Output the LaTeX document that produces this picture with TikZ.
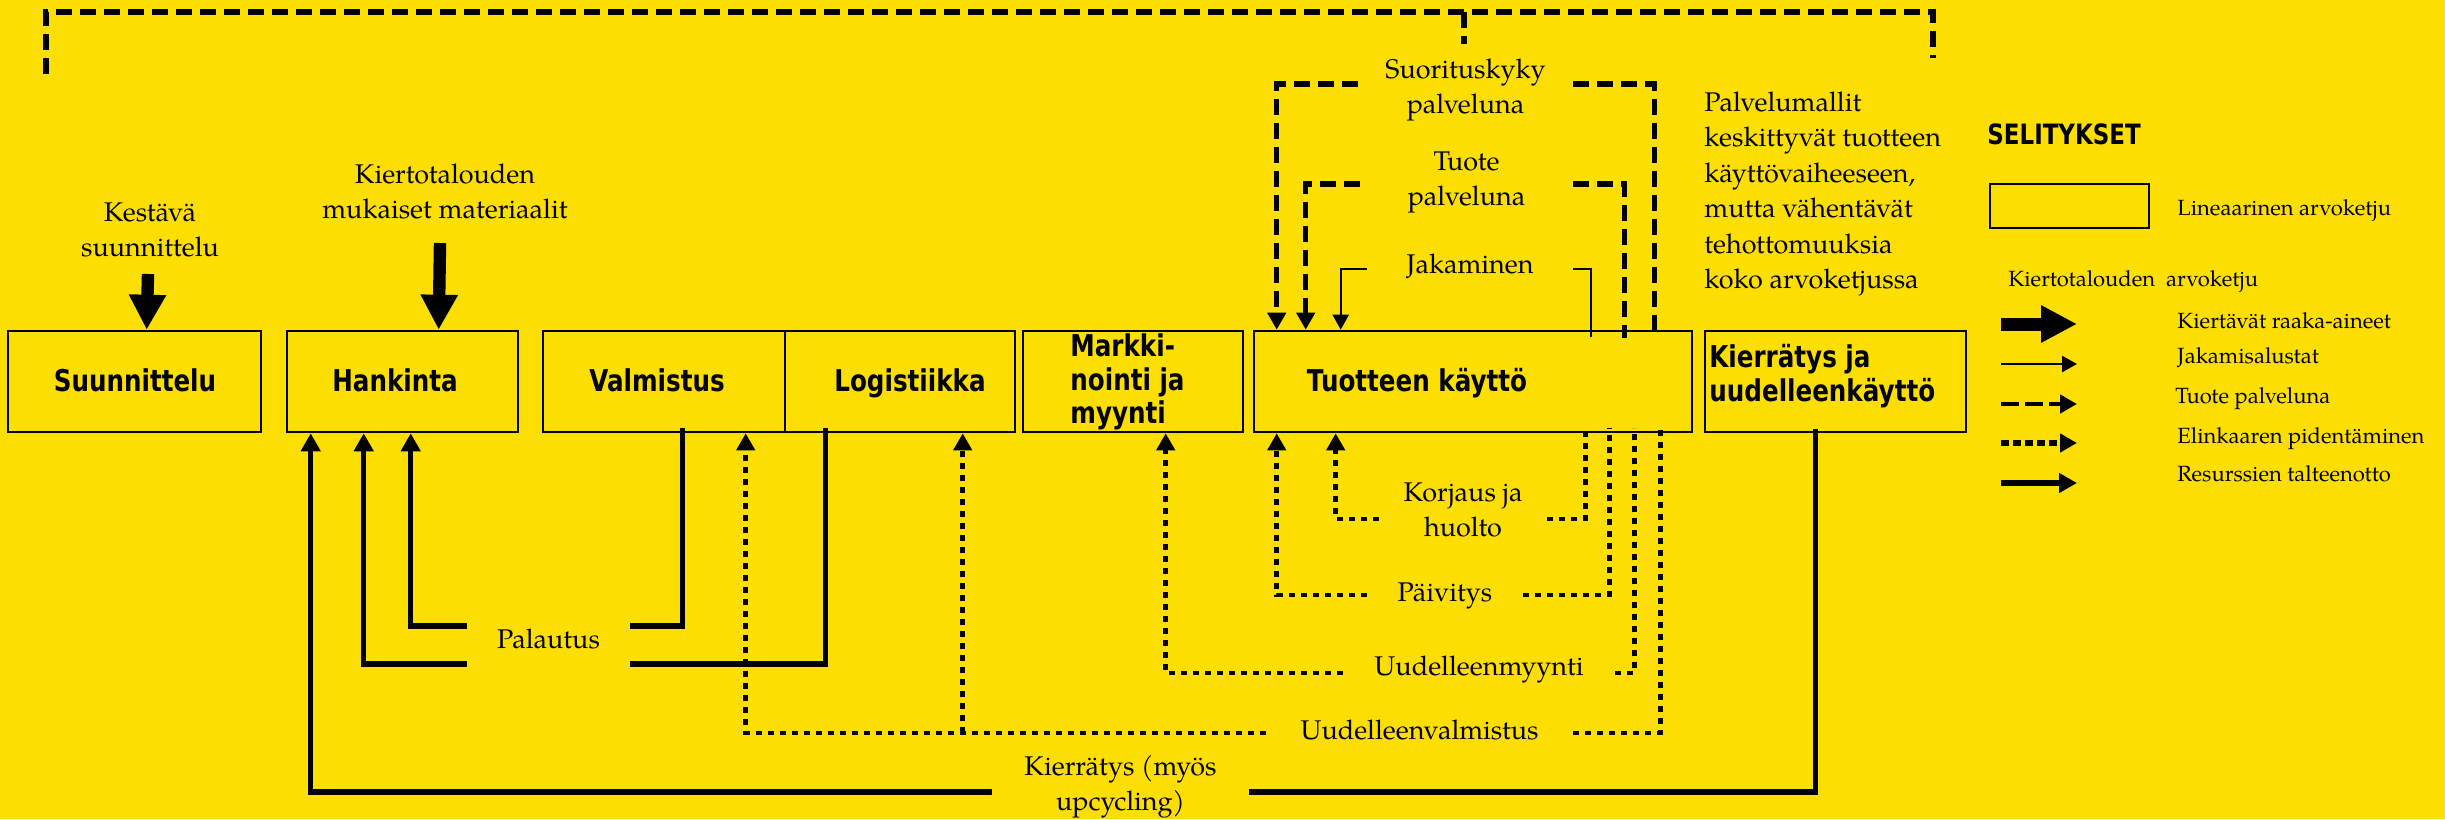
\documentclass[tikz,border=0pt]{standalone}
\usepackage{fontspec}
\setmainfont{texgyrepagella}[Extension=.otf, UprightFont=*-regular, BoldFont=*-bold, ItalicFont=*-italic, BoldItalicFont=*-bolditalic]
\newfontfamily\boxfont{DejaVu Sans}[FakeStretch=0.82]
\usetikzlibrary{arrows.meta,calc}
\definecolor{bgyellow}{RGB}{252,223,0}
\tikzset{
  box/.style={draw, line width=1.3pt, rectangle, inner sep=0pt},
  boxtext/.style={font=\boxfont\bfseries\fontsize{15}{16.75}\selectfont, inner sep=0pt},
  lab/.style={font=\fontsize{13.5}{17.5}\selectfont, align=center, inner sep=0pt},
  leglab/.style={font=\fontsize{11}{13}\selectfont, inner sep=0pt, anchor=base west},
  solidline/.style={line width=2.7pt},
  solidarrow/.style={solidline, -{Triangle[length=9pt,width=9.5pt]}},
  dotline/.style={line width=2.4pt, dash pattern=on 3pt off 3pt},
  dotarrow/.style={dotline, -{Triangle[length=8.5pt,width=9pt]}},
  dashline/.style={line width=2.7pt, dash pattern=on 8pt off 4pt},
  dasharrow/.style={dashline, -{Triangle[length=8.5pt,width=9pt]}},
  thinline/.style={line width=1.15pt},
  thinarrow/.style={thinline, -{Triangle[length=7.5pt,width=8pt]}},
  bigarrow/.style={line width=6.2pt, -{Triangle[length=17.5pt,width=17.5pt]}},
}
\begin{document}
\begin{tikzpicture}[x=0.5pt,y=-0.5pt]
\fill[bgyellow] (0,0) rectangle (2445,819);
\useasboundingbox (0,0) rectangle (2445,819);

% top dashed frame
\coordinate (f1) at (46,74);
\coordinate (f2) at (46,12);
\coordinate (f3) at (1933,12);
\coordinate (f4) at (1933,58);
\coordinate (f5) at (1464,12);
\coordinate (f6) at (1464,44);
\draw[dashline, line width=2.6pt, dash pattern=on 8pt off 4pt] (f1) -- (f2) -- (f3) -- (f4);
\draw[dashline, line width=2.6pt] (f5) -- (f6);

% boxes
\node[box, minimum width=126.5pt, minimum height=50.5pt] (su) at (134.5,381.5) {};
\node[box, minimum width=115.5pt, minimum height=50.5pt] (han) at (402.5,381.5) {};
\node[box, minimum width=121pt, minimum height=50.5pt] (val) at (664,381.5) {};
\node[box, minimum width=115pt, minimum height=50.5pt] (log) at (900,381.5) {};
\node[box, minimum width=110pt, minimum height=50.5pt] (mk) at (1133,381.5) {};
\node[box, minimum width=219pt, minimum height=50.5pt] (tk) at (1473,381.5) {};
\node[box, minimum width=130.5pt, minimum height=50.5pt] (kj) at (1835.5,381.5) {};

% box texts
\node[boxtext, anchor=base] (suT) at (135,391) {Suunnittelu};
\node[boxtext, anchor=base] (hanT) at (395,391) {Hankinta};
\node[boxtext, anchor=base] (valT) at (657,391) {Valmistus};
\node[boxtext, anchor=base] (logT) at (910,391) {Logistiikka};
\node[boxtext, anchor=west, align=left] (mkT) at (1070,382) {Markki-\\nointi ja\\myynti};
\node[boxtext, anchor=base] (tkT) at (1417,391) {Tuotteen käyttö};
\node[boxtext, anchor=west, align=left] (kjT) at (1709,376) {Kierrätys ja\\uudelleenkäyttö};

% top inputs
\node[lab] (kes) at (150,230) {Kestävä\\suunnittelu};
\node[lab] (kim) at (445,191) {Kiertotalouden\\mukaiset materiaalit};
\coordinate (kesA) at (148,274);
\coordinate (kimA) at (440,243);
\draw[bigarrow] (kesA) -- ($(su.north west)+(140,0)$);
\draw[bigarrow] (kimA) -- ($(han.north west)+(153,0)$);

% product-as-service brackets
\node[lab, minimum width=107.5pt] (suo) at (1465.5,89.5) {Suorituskyky\\palveluna};
\draw[dasharrow] ($(suo.west)+(0,-5.5)$) -| ($(tk.north west)+(24,0)$);
\draw[dashline] ($(suo.east)+(0,-5.5)$) -| ($(tk.north west)+(402,8)$);

\node[lab, minimum width=106.5pt] (tpa) at (1466.5,182.5) {Tuote\\palveluna};
\draw[dasharrow] ($(tpa.west)+(0,1.5)$) -| ($(tk.north west)+(53,0)$);
\draw[dashline] ($(tpa.east)+(0,1.5)$) -| ($(tk.north west)+(372,8)$);

\node[lab, minimum width=103pt] (jak) at (1470,266) {Jakaminen};
\draw[thinarrow] ($(jak.west)+(0,3)$) -| ($(tk.north west)+(88,0)$);
\draw[thinline] ($(jak.east)+(0,3)$) -| ($(tk.north west)+(338,7)$);

% service model text
\node[lab, align=left, anchor=west, font=\fontsize{13.5}{17.7}\selectfont] (pm) at (1704,194) {Palvelumallit\\keskittyvät tuotteen\\käyttövaiheeseen,\\mutta vähentävät\\tehottomuuksia\\koko arvoketjussa};

% legend
\node[font=\boxfont\bfseries\fontsize{14}{15}\selectfont, anchor=base west, inner sep=0pt] (sel) at (1987,144) {SELITYKSET};
\node[box, minimum width=79.5pt, minimum height=22pt] (lrect) at (2069.5,206) {};
\node[leglab] (llin) at (2177,215) {Lineaarinen arvoketju};
\node[leglab] (lkier) at (2008,286) {Kiertotalouden\ \ arvoketju};
\node[leglab] (l1) at (2177,328) {Kiertävät raaka-aineet};
\node[leglab] (l2) at (2177,363) {Jakamisalustat};
\node[leglab] (l3) at (2175,403) {Tuote palveluna};
\node[leglab] (l4) at (2177,443) {Elinkaaren pidentäminen};
\node[leglab] (l5) at (2177,481) {Resurssien talteenotto};
\coordinate (a1s) at (2001,324); \coordinate (a1e) at (2077,324);
\coordinate (a2s) at (2001,364); \coordinate (a2e) at (2077,364);
\coordinate (a3s) at (2001,404); \coordinate (a3e) at (2077,404);
\coordinate (a4s) at (2001,443); \coordinate (a4e) at (2077,443);
\coordinate (a5s) at (2001,483); \coordinate (a5e) at (2077,483);
\draw[line width=6.5pt, -{Triangle[length=18pt,width=17.5pt]}] (a1s) -- (a1e);
\draw[thinarrow] (a2s) -- (a2e);
\draw[dasharrow, line width=2.4pt, dash pattern=on 9pt off 3pt] (a3s) -- (a3e);
\draw[dotarrow, line width=2.6pt, dash pattern=on 4pt off 2pt] (a4s) -- (a4e);
\draw[solidarrow] (a5s) -- (a5e);

% returns
\node[lab, minimum width=81.5pt] (pal) at (548.5,639) {Palautus};
\draw[solidarrow] ($(pal.west)+(0,-13)$) -| ($(han.south west)+(125,0)$);
\draw[solidline] ($(pal.east)+(0,-13)$) -| ($(val.south west)+(141,-5)$);
\draw[solidarrow] ($(pal.west)+(0,25)$) -| ($(han.south west)+(78,0)$);
\draw[solidline] ($(pal.east)+(0,25)$) -| ($(log.south west)+(42,-5)$);

% recycling
\node[lab, minimum width=128.5pt] (kmu) at (1120.5,786.5) {Kierrätys (myös\\upcycling)};
\draw[solidarrow] ($(kmu.west)+(0,5.5)$) -| ($(han.south west)+(25,0)$);
\draw[solidline] ($(kmu.east)+(0,5.5)$) -| ($(kj.south west)+(112,-4)$);

% life extension loops
\node[lab, minimum width=84pt] (kor) at (1463,510) {Korjaus ja\\huolto};
\draw[dotarrow] ($(kor.west)+(0,9)$) -| ($(tk.south west)+(83,0)$);
\draw[dotline] ($(kor.east)+(0,9)$) -| ($(tk.south west)+(333,-5)$);

\node[lab, minimum width=78pt] (pai) at (1445,596) {Päivitys};
\draw[dotarrow] ($(pai.west)+(0,-1)$) -| ($(tk.south west)+(24,0)$);
\draw[dotline] ($(pai.east)+(0,-1)$) -| ($(tk.south west)+(357,-5)$);

\node[lab, minimum width=136pt] (umy) at (1479,670) {Uudelleenmyynti};
\draw[dotarrow] ($(umy.west)+(0,3)$) -| ($(mk.south west)+(144,0)$);
\draw[dotline] ($(umy.east)+(0,3)$) -| ($(tk.south west)+(382,-5)$);

\node[lab, minimum width=153.5pt] (uva) at (1419.5,730) {Uudelleenvalmistus};
\draw[dotarrow] ($(uva.west)+(0,3)$) -| ($(val.south west)+(204,0)$);
\draw[dotline] ($(uva.east)+(0,3)$) -| ($(tk.south west)+(408,-5)$);
\coordinate (lport) at ($(log.south west)+(179,0)$);
\coordinate (uvl) at ($(uva.west)+(0,3)$);
\draw[dotarrow] (uvl -| lport) -- (lport);
\end{tikzpicture}
\end{document}
